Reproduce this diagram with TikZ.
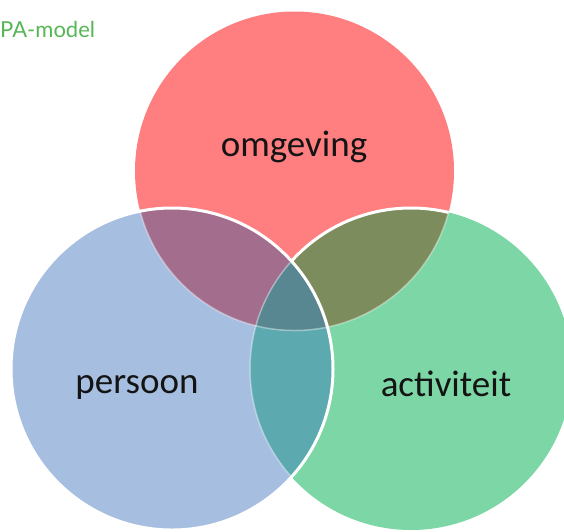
\documentclass[tikz,border=0pt]{standalone}
\usepackage{fontspec}
\setmainfont{Carlito}
\newfontfamily\titlefont{Lato}
\definecolor{cRed}{RGB}{255,126,128}
\definecolor{cBlue}{RGB}{166,190,224}
\definecolor{cGreen}{RGB}{125,214,165}
\definecolor{cRB}{RGB}{163,110,142}
\definecolor{cRG}{RGB}{125,140,92}
\definecolor{cGB}{RGB}{92,170,176}
\definecolor{cAll}{RGB}{88,135,146}
\definecolor{cTitle}{RGB}{86,182,86}
\definecolor{cText}{RGB}{20,20,20}
\tikzset{
  whiteedge/.style={draw=white, line width=3pt},
  faintedge/.style={draw=white, draw opacity=0.4, line width=1.5pt},
  label/.style={font=\fontsize{37}{40}\selectfont, text=cText, inner sep=0pt, anchor=base}
}
\begin{document}
\begin{tikzpicture}[x=1pt,y=-1pt]
\useasboundingbox (0,0) rectangle (564,531);
\coordinate (R) at (294.5,171);
\coordinate (B) at (172,369);
\coordinate (G) at (411,369);
\def\rR{159.5pt}
\def\rB{161pt}
\def\rG{161pt}
% base fills
\fill[cRed] (R) circle[radius=\rR];
\fill[cGreen] (G) circle[radius=\rG];
\fill[cBlue] (B) circle[radius=\rB];
% pairwise overlaps
\begin{scope}\clip (R) circle[radius=\rR]; \fill[cRG] (G) circle[radius=\rG]; \end{scope}
\begin{scope}\clip (R) circle[radius=\rR]; \fill[cRB] (B) circle[radius=\rB]; \end{scope}
\begin{scope}\clip (G) circle[radius=\rG]; \fill[cGB] (B) circle[radius=\rB]; \end{scope}
\begin{scope}\clip (R) circle[radius=\rR]; \clip (G) circle[radius=\rG]; \fill[cAll] (B) circle[radius=\rB]; \end{scope}
% faint edges
\begin{scope}\clip (B) circle[radius=\rB]; \draw[faintedge] (R) circle[radius=\rR]; \draw[faintedge] (G) circle[radius=\rG]; \end{scope}
\begin{scope}[even odd rule]\clip (G) circle[radius=\rG]; \clip (-10,-10) rectangle (600,560) (B) circle[radius=\rB]; \draw[faintedge] (R) circle[radius=\rR]; \end{scope}
% white edges
\begin{scope}[even odd rule]\clip (R) circle[radius=\rR]; \clip (-10,-10) rectangle (600,560) (B) circle[radius=\rB]; \draw[whiteedge] (G) circle[radius=\rG]; \end{scope}
\draw[whiteedge] (B) circle[radius=\rB];
% labels
\node[label] (omgeving) at (294,156) {omgeving};
\node[label] (persoon) at (137,393) {persoon};
\node[label] (activiteit) at (446,396) {activiteit};
\node[anchor=base west, inner sep=0pt, text=cTitle, font=\titlefont\fontsize{22}{24}\selectfont] (title) at (0,37) {PA-model};
\end{tikzpicture}
\end{document}
